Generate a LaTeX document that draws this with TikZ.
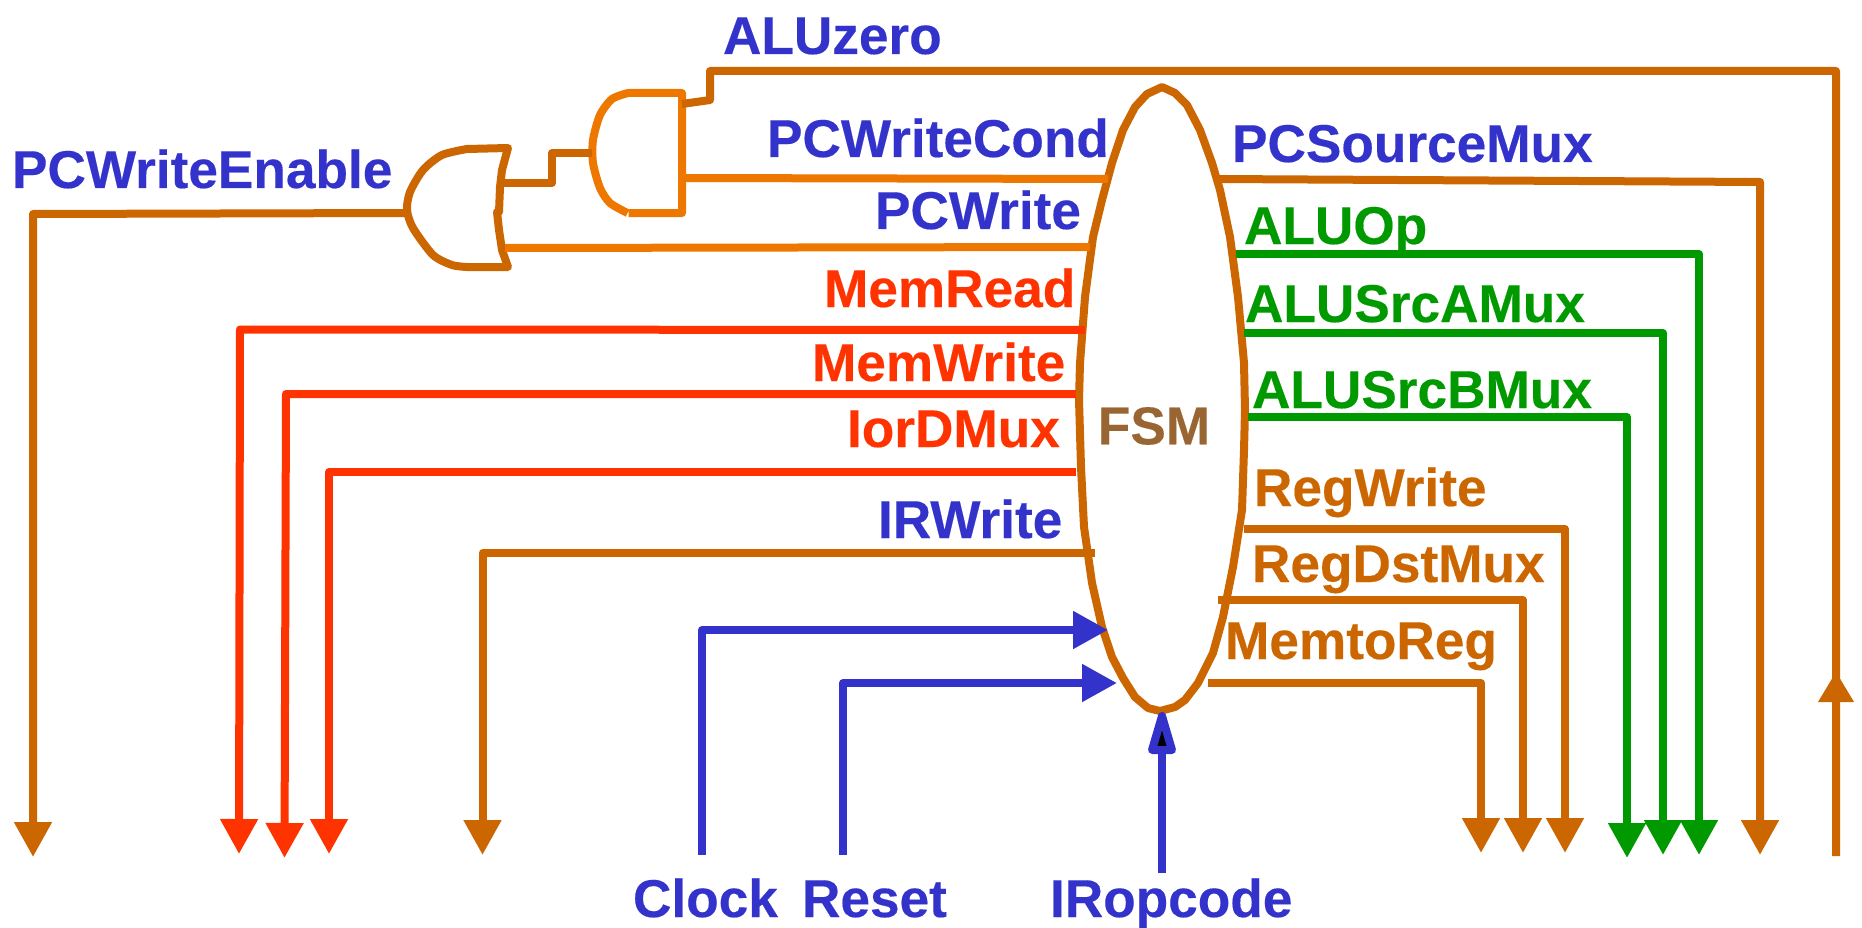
\documentclass[tikz,border=0pt]{standalone}
\usepackage{fontspec}
\setmainfont{Liberation Sans}[BoldFeatures={FakeBold=0.3}]
\usetikzlibrary{arrows.meta,shapes.geometric}
\definecolor{cBrown}{HTML}{CC6600}
\definecolor{cOrange}{HTML}{EE7700}
\definecolor{cRed}{HTML}{FF3300}
\definecolor{cGreen}{HTML}{009900}
\definecolor{cBlue}{HTML}{3333CC}
\definecolor{cFsm}{HTML}{996633}
\tikzset{
 wire/.style={line width=8pt,line join=round,draw=#1},
 tip/.style={-{Triangle[length=35pt,width=36pt]}},
 lab/.style={font=\bfseries\fontsize{53.2}{60}\selectfont,text=#1,anchor=base west,inner sep=0pt,outer sep=0pt},
 gate/.style={line width=8pt,line join=round,line cap=round,draw=#1},
}
\begin{document}
\begin{tikzpicture}[x=1pt,y=-1pt]
\useasboundingbox (0,0) rectangle (1862,928);
% FSM outline
\draw[wire=cBrown] (1162,87) -- (1175,93) -- (1187,105) -- (1200,130) -- (1212,163) -- (1220,190) -- (1230,237) -- (1238,297) -- (1244,363) -- (1245,410) -- (1244,450) -- (1242,510) -- (1233,567) -- (1223,617) -- (1213,653) -- (1198,683) -- (1185,700) -- (1175,707) -- (1160,711) -- (1148,708) -- (1135,697) -- (1123,678) -- (1112,657) -- (1102,627) -- (1092,583) -- (1084,527) -- (1081,467) -- (1079,400) -- (1080,363) -- (1085,297) -- (1093,237) -- (1102,200) -- (1112,163) -- (1123,130) -- (1135,107) -- (1147,94) -- cycle;
\node[lab=cFsm,anchor=center] (fsm) at (1154,426) {FSM};
% gates
\draw[gate=cBrown] plot[smooth,tension=0.45] coordinates {(467,149) (442,155) (423,170) (410,192) (407,210) (413,228) (433,255) (452,265) (467,267)};
\draw[gate=cBrown] (467,149) -- (508,148) -- (502,170) -- (500,187) -- (499,212);
\draw[gate=cBrown] (467,267) -- (508,267) -- (502,250) -- (499,230) -- (497,212);
\draw[gate=cOrange,line cap=butt] plot[smooth,tension=0.45] coordinates {(627.5,213) (610,203) (600,188) (593,163) (593,140) (600,115) (612,99) (628,93)} -- (682,93) -- (682,213) -- (628.5,213);
\coordinate (orOut) at (407,213);
\coordinate (orInA) at (502,183);
\coordinate (orInB) at (505,248);
\coordinate (andOut) at (592,153);
\coordinate (andInA) at (682,104);
\coordinate (andInB) at (686,178);
% ends
\foreach \n/\x/\y in {
 eWE/33/857, eAz/1836/856, eCond/1108/179, eWrite/1090/247,
 eMR/1085/330, eMW/1076/394, eID/1076/472, eIR/1095/553,
 eMRb/239/854, eMWb/284.5/858, eIDb/329/854, eIRb/482.5/855,
 sClk/702/855, sRst/843/855, tClk/1108/630, tRst/1117/683,
 sOp/1162/873, tOp/1162/716,
 sPC/1217/179, sAO/1236/254, sAA/1244/333, sAB/1248/417,
 sRW/1244/529, sRD/1218/600, sMR/1208/683,
 ePC/1760/855, eAO/1699/855, eAA/1663/855, eAB/1627/858,
 eRW/1565/853, eRD/1523/853, eMt/1481/853}
 {\coordinate (\n) at (\x,\y);}
% connectors
\draw[wire=cBrown] (eAz) -- (1836,71) -- (710,71) -- (710,100) -- (andInA);
\fill[cBrown] (1836,672) -- (1854,702) -- (1818,702) -- cycle;
\draw[wire=cOrange] (andInB) -- (eCond);
\draw[wire=cOrange] (orInB) -- (eWrite);
\draw[wire=cBrown] (orInA) -- (552,183) -- (552,153) -- (andOut);
\draw[wire=cBrown,tip] (orOut) -- (33,214) -- (eWE);
\draw[wire=cRed,tip] (eMR) -- (240,329.5) -- (eMRb);
\draw[wire=cRed,tip] (eMW) -- (286,394) -- (eMWb);
\draw[wire=cRed,tip] (eID) -- (329,472) -- (eIDb);
\draw[wire=cBrown,tip] (eIR) -- (482.5,553) -- (eIRb);
\draw[wire=cBlue,tip] (sClk) -- (702,630) -- (tClk);
\draw[wire=cBlue,tip] (sRst) -- (843,683) -- (tRst);
\draw[wire=cBlue] (sOp) -- (1162,750);
\draw[line width=8pt,line join=round,draw=cBlue,fill=black] (tOp) -- (1172,750) -- (1152,750) -- cycle;
\draw[wire=cBrown,tip] (sPC) -- (1760,182) -- (ePC);
\draw[wire=cGreen,tip] (sAO) -- (1699,254) -- (eAO);
\draw[wire=cGreen,tip] (sAA) -- (1663,333) -- (eAA);
\draw[wire=cGreen,tip] (sAB) -- (1627,417) -- (eAB);
\draw[wire=cBrown,tip] (sRW) -- (1565,529) -- (eRW);
\draw[wire=cBrown,tip] (sRD) -- (1523,600) -- (eRD);
\draw[wire=cBrown,tip] (sMR) -- (1481,683) -- (eMt);
% labels
\node[lab=cBlue] (lAz) at (723,54) {ALUzero};
\node[lab=cBlue] (lWE) at (12,188) {PCWriteEnable};
\node[lab=cBlue] (lWC) at (767,157) {PCWriteCond};
\node[lab=cBlue] (lW) at (875,229) {PCWrite};
\node[lab=cRed] (lMR) at (824,307) {MemRead};
\node[lab=cRed] (lMW) at (812,381) {MemWrite};
\node[lab=cRed] (lID) at (847,447) {IorDMux};
\node[lab=cBlue] (lIR) at (878,538) {IRWrite};
\node[lab=cBlue] (lPC) at (1232,162) {PCSourceMux};
\node[lab=cGreen] (lAO) at (1244,244) {ALUOp};
\node[lab=cGreen] (lAA) at (1245,322) {ALUSrcAMux};
\node[lab=cGreen] (lAB) at (1252,408) {ALUSrcBMux};
\node[lab=cBrown] (lRW) at (1254,506) {RegWrite};
\node[lab=cBrown] (lRD) at (1252,582) {RegDstMux};
\node[lab=cBrown] (lMt) at (1225,659) {MemtoReg};
\node[lab=cBlue] (lClk) at (633,917) {Clock};
\node[lab=cBlue] (lRst) at (802,917) {Reset};
\node[lab=cBlue] (lOp) at (1050,917) {IRopcode};
\end{tikzpicture}
\end{document}
